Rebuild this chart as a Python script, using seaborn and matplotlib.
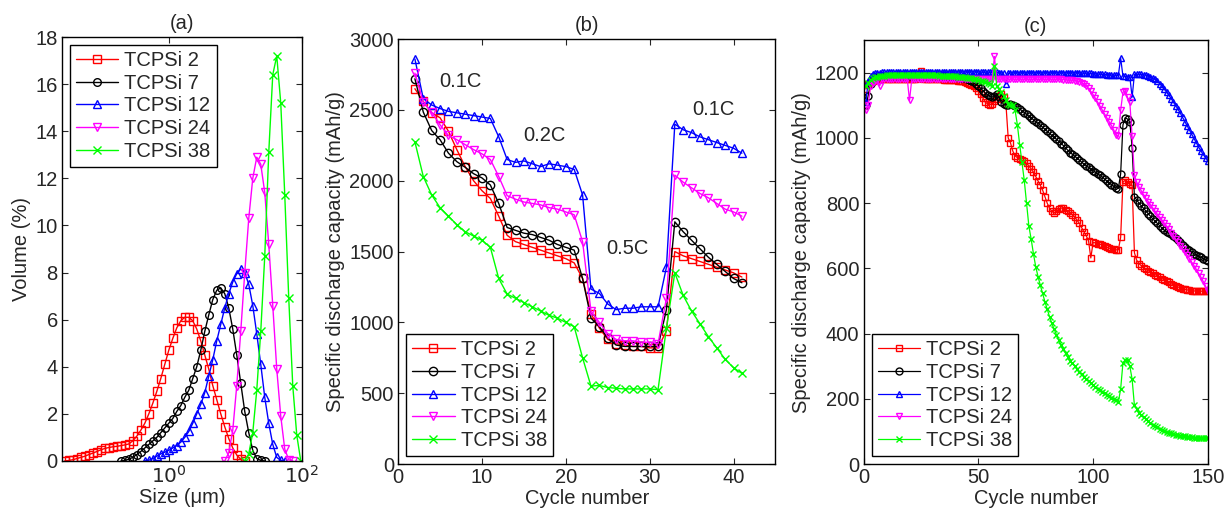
import matplotlib
matplotlib.use("Agg")
import matplotlib.pyplot as plt
import seaborn as sns

# ========== DATA ==========
names = ["TCPSi 2", "TCPSi 7", "TCPSi 12", "TCPSi 24", "TCPSi 38"]
colors = ["#ff0000", "#000000", "#0000ff", "#ff00ff", "#00ff00"]
markers = ["s", "o", "^", "v", "x"]

# (a) particle size distribution
size_bins = [0.0275, 0.0316, 0.0363, 0.0417, 0.0479, 0.0550, 0.0631, 0.0724, 0.0832, 0.0955,
             0.110, 0.126, 0.145, 0.166, 0.191, 0.219, 0.251, 0.288, 0.331, 0.380,
             0.437, 0.502, 0.576, 0.661, 0.759, 0.871, 1.000, 1.148, 1.318, 1.514,
             1.738, 1.995, 2.291, 2.630, 3.020, 3.467, 3.981, 4.571, 5.248, 6.026,
             6.918, 7.943, 9.120, 10.47, 12.02, 13.80, 15.85, 18.20, 20.89, 23.99,
             27.54, 31.62, 36.31, 41.69, 47.86, 54.95, 63.10, 72.44, 83.18, 95.50]
vol_start = [0, 14, 20, 40, 45]
vol_2 = [0, 0.02, 0.05, 0.1, 0.15, 0.2, 0.27, 0.33, 0.4, 0.47,
         0.53, 0.57, 0.6, 0.62, 0.65, 0.68, 0.72, 0.85, 1.05, 1.3,
         1.6, 2.0, 2.45, 2.95, 3.5, 4.1, 4.7, 5.2, 5.65, 5.95,
         6.1, 6.1, 5.95, 5.6, 5.1, 4.5, 3.9, 3.2, 2.6, 2.0,
         1.45, 0.95, 0.55, 0.25, 0.07, 0]
vol_7 = [0, 0.02, 0.07, 0.15, 0.27, 0.4, 0.55, 0.7, 0.85, 1.0,
         1.2, 1.4, 1.6, 1.8, 2.1, 2.35, 2.7, 3.0, 3.5, 4.0,
         4.7, 5.5, 6.2, 6.85, 7.25, 7.35, 7.1, 6.5, 5.6, 4.5,
         3.3, 2.1, 1.2, 0.45, 0.1, 0.02, 0]
vol_12 = [0, 0.03, 0.1, 0.2, 0.3, 0.37, 0.45, 0.55, 0.65, 0.8,
          1.0, 1.25, 1.6, 2.0, 2.4, 2.9, 3.6, 4.3, 5.1, 5.8,
          6.5, 7.1, 7.6, 7.95, 8.15, 8.0, 7.5, 6.6, 5.4, 4.1,
          2.7, 1.6, 0.7, 0.15, 0.02, 0]
vol_24 = [0, 0.35, 1.3, 3.2, 5.5, 8.0, 10.3, 12.0, 12.9, 12.6, 11.4, 9.2, 6.6, 3.9, 1.9, 0.5, 0.05, 0]
vol_38 = [0, 0.3, 1.2, 3.0, 5.5, 8.7, 13.1, 16.4, 17.2, 15.2, 11.3, 6.9, 3.2, 1.1, 0]

# (b) rate test, cycles 2..41
cycles_b = list(range(2, 42))
rate_2 = [2650, 2560, 2480, 2445, 2350, 2220, 2100, 2000, 1930, 1875,
          1750, 1615, 1570, 1550, 1530, 1510, 1490, 1470, 1450, 1420,
          1310, 1060, 960, 880, 850, 840, 830, 830, 820, 820,
          940, 1500, 1470, 1450, 1430, 1410, 1390, 1370, 1350, 1320]
rate_7 = [2720, 2485, 2355, 2290, 2195, 2135, 2095, 2050, 2020, 1970,
          1840, 1670, 1650, 1630, 1620, 1600, 1580, 1550, 1530, 1510,
          1310, 1030, 970, 890, 840, 830, 830, 830, 830, 830,
          1090, 1710, 1640, 1580, 1520, 1460, 1410, 1360, 1310, 1280]
rate_12 = [2860, 2580, 2535, 2510, 2490, 2480, 2470, 2460, 2450, 2440,
           2310, 2150, 2130, 2140, 2120, 2100, 2120, 2110, 2100, 2080,
           1900, 1235, 1205, 1130, 1090, 1100, 1100, 1110, 1110, 1110,
           1390, 2400, 2360, 2340, 2310, 2290, 2270, 2250, 2230, 2195]
rate_24 = [2760, 2555, 2485, 2395, 2320, 2290, 2255, 2220, 2190, 2150,
           2030, 1895, 1870, 1850, 1840, 1830, 1810, 1800, 1780, 1760,
           1570, 1080, 1000, 920, 880, 870, 870, 860, 860, 850,
           1170, 2040, 1990, 1950, 1910, 1880, 1840, 1800, 1780, 1750]
rate_38 = [2275, 2030, 1900, 1810, 1750, 1690, 1640, 1610, 1580, 1530,
           1310, 1200, 1170, 1140, 1110, 1080, 1050, 1030, 1000, 970,
           750, 550, 555, 540, 535, 530, 530, 530, 530, 525,
           960, 1350, 1190, 1080, 990, 900, 820, 740, 680, 640]
rate_labels = ["0.1C", "0.2C", "0.5C", "0.1C"]
rate_label_x = [7.4, 17.4, 27.3, 37.6]
rate_label_y = [2700, 2320, 1520, 2500]

# (c) cycling, cycles 1..150
cycles_c = list(range(1, 151))
cyc_2 = [1150, 1165, 1172, 1176, 1178, 1180, 1180, 1181, 1181, 1181, 1181, 1181, 1181, 1181, 1181,
         1181, 1181, 1181, 1181, 1181, 1181, 1181, 1182, 1190, 1205, 1182, 1181, 1181, 1181, 1180,
         1180, 1180, 1180, 1180, 1179, 1179, 1179, 1178, 1178, 1177, 1176, 1175, 1174, 1172, 1170,
         1167, 1163, 1158, 1152, 1145, 1135, 1122, 1110, 1105, 1102, 1105, 1112, 1120, 1130, 1135,
         1125, 1105, 1000, 985, 960, 945, 940, 935, 932, 928, 922, 915, 905, 895, 882,
         868, 855, 840, 820, 800, 785, 775, 770, 775, 782, 785, 785, 780, 775, 770,
         765, 758, 748, 738, 725, 712, 700, 685, 632, 680, 678, 676, 674, 672, 668,
         665, 662, 660, 658, 657, 657, 695, 865, 870, 866, 860, 855, 648, 625, 615,
         608, 602, 597, 593, 589, 585, 581, 577, 573, 569, 565, 561, 557, 553, 549,
         546, 543, 540, 538, 536, 534, 533, 532, 531, 530, 530, 530, 530, 530, 530]
cyc_7 = [1100, 1130, 1165, 1180, 1185, 1188, 1190, 1190, 1190, 1190, 1190, 1190, 1190, 1190, 1190,
         1190, 1190, 1190, 1190, 1190, 1190, 1190, 1190, 1190, 1190, 1190, 1190, 1190, 1190, 1190,
         1190, 1190, 1190, 1189, 1189, 1189, 1188, 1188, 1187, 1187, 1186, 1185, 1184, 1183, 1181,
         1179, 1176, 1172, 1167, 1160, 1152, 1145, 1138, 1132, 1128, 1125, 1130, 1135, 1125, 1110,
         1105, 1102, 1100, 1105, 1102, 1098, 1094, 1089, 1084, 1078, 1073, 1067, 1062, 1056, 1050,
         1045, 1039, 1033, 1027, 1020, 1014, 1008, 1002, 996, 990, 983, 977, 970, 962, 955,
         950, 944, 938, 932, 926, 920, 915, 910, 905, 900, 895, 890, 885, 880, 874,
         868, 862, 857, 852, 848, 845, 890, 1040, 1062, 1058, 1050, 970, 820, 810, 800,
         792, 784, 776, 768, 760, 752, 745, 738, 731, 724, 717, 712, 710, 706, 700,
         693, 687, 680, 673, 666, 660, 655, 650, 645, 640, 637, 634, 630, 627, 624]
cyc_12 = [1110, 1175, 1190, 1195, 1198, 1200, 1200, 1201, 1201, 1202, 1202, 1202, 1202, 1203, 1203,
          1203, 1203, 1203, 1203, 1203, 1203, 1203, 1203, 1203, 1203, 1203, 1203, 1203, 1203, 1203,
          1203, 1203, 1203, 1203, 1203, 1203, 1203, 1203, 1203, 1203, 1203, 1203, 1203, 1203, 1203,
          1203, 1203, 1203, 1203, 1203, 1202, 1202, 1202, 1202, 1202, 1202, 1202, 1202, 1200, 1200,
          1198, 1165, 1198, 1200, 1200, 1200, 1200, 1200, 1200, 1200, 1200, 1200, 1200, 1200, 1200,
          1200, 1200, 1200, 1200, 1200, 1200, 1200, 1200, 1200, 1200, 1200, 1200, 1200, 1200, 1200,
          1200, 1200, 1200, 1200, 1199, 1199, 1199, 1198, 1198, 1197, 1197, 1196, 1196, 1195, 1195,
          1194, 1194, 1193, 1193, 1192, 1192, 1245, 1190, 1189, 1188, 1188, 1125, 1195, 1195, 1195,
          1195, 1194, 1193, 1191, 1188, 1185, 1180, 1174, 1167, 1159, 1150, 1141, 1131, 1121, 1110,
          1099, 1088, 1076, 1063, 1050, 1037, 1024, 1011, 998, 985, 972, 960, 949, 939, 930]
cyc_24 = [1085, 1100, 1160, 1170, 1175, 1178, 1160, 1180, 1182, 1182, 1182, 1182, 1182, 1182, 1182,
          1182, 1182, 1182, 1182, 1115, 1182, 1182, 1182, 1182, 1182, 1182, 1182, 1182, 1182, 1182,
          1182, 1182, 1182, 1182, 1182, 1182, 1182, 1182, 1182, 1182, 1182, 1182, 1182, 1182, 1182,
          1181, 1181, 1181, 1181, 1181, 1181, 1181, 1181, 1181, 1181, 1181, 1250, 1181, 1181, 1181,
          1181, 1180, 1180, 1180, 1180, 1180, 1180, 1180, 1180, 1180, 1180, 1180, 1180, 1180, 1180,
          1180, 1180, 1180, 1180, 1180, 1180, 1180, 1180, 1180, 1180, 1180, 1179, 1179, 1178, 1178,
          1177, 1176, 1175, 1173, 1170, 1166, 1160, 1152, 1143, 1133, 1122, 1110, 1098, 1086, 1074,
          1062, 1050, 1038, 1025, 1010, 1005, 1085, 1140, 1145, 1125, 1110, 1005, 885, 865, 850,
          838, 826, 815, 805, 795, 785, 775, 766, 757, 748, 739, 730, 720, 710, 700,
          690, 680, 670, 660, 650, 640, 630, 619, 608, 597, 585, 573, 560, 546, 530]
cyc_38 = [1160, 1170, 1178, 1183, 1186, 1188, 1190, 1191, 1191, 1192, 1192, 1192, 1192, 1192, 1192,
          1192, 1192, 1192, 1192, 1192, 1192, 1192, 1192, 1192, 1192, 1192, 1192, 1192, 1192, 1192,
          1192, 1192, 1191, 1191, 1191, 1190, 1190, 1190, 1189, 1189, 1188, 1188, 1187, 1186, 1185,
          1184, 1183, 1182, 1180, 1178, 1176, 1174, 1172, 1170, 1166, 1160, 1222, 1160, 1150, 1140,
          1130, 1115, 1105, 1100, 1100, 1085, 1040, 980, 925, 870, 800, 730, 690, 645, 605,
          575, 548, 523, 498, 475, 452, 432, 414, 397, 380, 366, 352, 339, 327, 316,
          309, 300, 291, 283, 275, 268, 261, 254, 247, 241, 236, 231, 226, 221, 217,
          212, 208, 204, 200, 196, 190, 230, 310, 320, 318, 300, 260, 180, 168, 158,
          150, 143, 137, 131, 126, 121, 116, 112, 108, 104, 101, 98, 96, 94, 92,
          90, 88, 87, 86, 85, 84, 83, 82, 81, 80, 80, 80, 79, 79, 79]

# ========== STYLE ==========
FS = 14.5
sns.set_style("ticks")
plt.rcParams["font.family"] = ["Liberation Sans", "DejaVu Sans"]
plt.rcParams["xtick.direction"] = "in"
plt.rcParams["ytick.direction"] = "in"
plt.rcParams["xtick.top"] = True
plt.rcParams["ytick.right"] = True
plt.rcParams["axes.linewidth"] = 1.0
plt.rcParams["axes.edgecolor"] = "black"
plt.rcParams["font.size"] = FS

fig = plt.figure(figsize=(12.25, 5.15), dpi=100)
ax_a = fig.add_axes([0.0506, 0.105, 0.196, 0.823])
ax_b = fig.add_axes([0.325, 0.099, 0.308, 0.825])
ax_c = fig.add_axes([0.705, 0.099, 0.281, 0.823])


def draw(ax, x, y, i, ms, lw=1.0):
    sns.lineplot(x=x, y=y, ax=ax, color=colors[i], marker=markers[i], markersize=ms,
                 markerfacecolor="none", markeredgecolor=colors[i], markeredgewidth=1.0,
                 linewidth=lw, label=names[i], legend=False)


def legende(ax, loc):
    ax.legend(loc=loc, frameon=True, fancybox=False, edgecolor="black", framealpha=1,
              fontsize=FS, handlelength=2.1, handletextpad=0.3, labelspacing=0.18,
              borderpad=0.3, borderaxespad=0.4)
    ax.get_legend().get_frame().set_linewidth(1.0)


# ========== (a) ==========
vols = [vol_2, vol_7, vol_12, vol_24, vol_38]
for i, v in enumerate(vols):
    s0 = vol_start[i]
    draw(ax_a, size_bins[s0:s0 + len(v)], v, i, 5.5)
ax_a.set_xscale("log")
ax_a.set_xlim(0.025, 100)
ax_a.set_ylim(0, 18)
ax_a.set_xticks([1, 100])
ax_a.set_xticklabels([r"$10^0$", r"$10^2$"])
ax_a.xaxis.set_minor_locator(matplotlib.ticker.NullLocator())
ax_a.set_yticks(range(0, 19, 2))
ax_a.set_xlabel("Size (\u03bcm)", labelpad=1)
ax_a.set_ylabel("Volume (%)", labelpad=3)
ax_a.set_title("(a)", fontsize=FS, pad=6)
legende(ax_a, "upper left")

# ========== (b) ==========
rates = [rate_2, rate_7, rate_12, rate_24, rate_38]
for i, v in enumerate(rates):
    draw(ax_b, cycles_b, v, i, 6)
for t, x, y in zip(rate_labels, rate_label_x, rate_label_y):
    ax_b.text(x, y, t, ha="center", va="center", fontsize=FS)
ax_b.set_xlim(0, 45)
ax_b.set_ylim(0, 3000)
ax_b.set_xticks([0, 10, 20, 30, 40])
ax_b.set_yticks(range(0, 3001, 500))
ax_b.set_xlabel("Cycle number", labelpad=1)
ax_b.set_ylabel("Specific discharge capacity (mAh/g)", labelpad=3)
ax_b.set_title("(b)", fontsize=FS, pad=6)
legende(ax_b, "lower left")

# ========== (c) ==========
cycs = [cyc_2, cyc_7, cyc_12, cyc_24, cyc_38]
for i, v in enumerate(cycs):
    draw(ax_c, cycles_c, v, i, 5, lw=0.9)
ax_c.set_xlim(0, 150)
ax_c.set_ylim(0, 1300)
ax_c.set_xticks([0, 50, 100, 150])
ax_c.set_yticks(range(0, 1201, 200))
ax_c.set_xlabel("Cycle number", labelpad=1)
ax_c.set_ylabel("Specific discharge capacity (mAh/g)", labelpad=3)
ax_c.set_title("(c)", fontsize=FS, pad=6)
legende(ax_c, "lower left")

for ax in (ax_a, ax_b, ax_c):
    ax.tick_params(length=4, width=0.8, labelsize=FS, pad=3)

fig.savefig("out.png", dpi=100)
